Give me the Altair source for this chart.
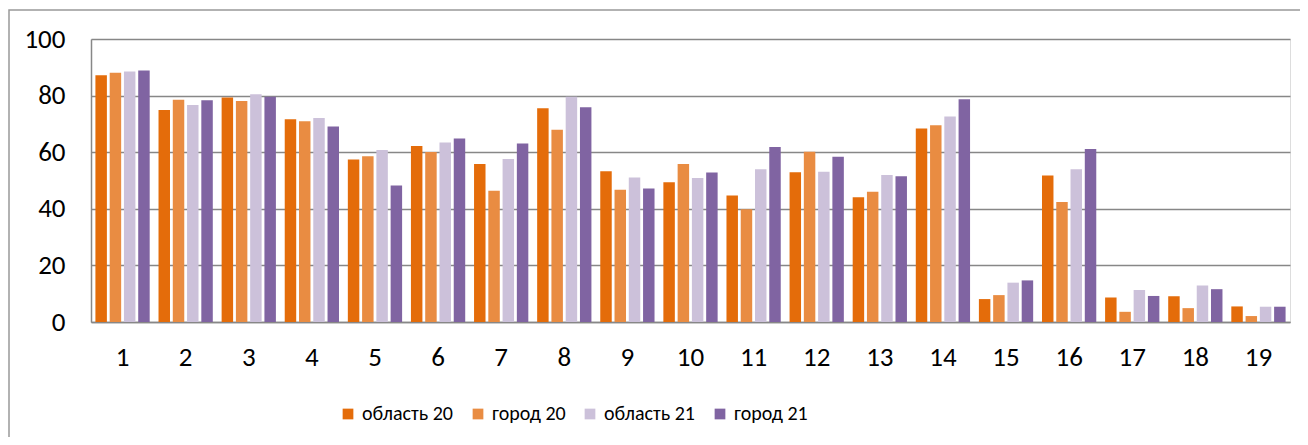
import altair as alt
import pandas as pd

tasks = [str(i) for i in range(1, 20)]
series = ["область 20", "город 20", "область 21", "город 21"]
colors = ["#E46C0A", "#E98C42", "#CCC1DA", "#8064A2"]

obl20 = [87.2, 74.9, 79.3, 71.6, 57.4, 62.2, 55.8, 75.5, 53.3, 49.4, 44.7, 52.9, 44.1, 68.4, 8.1, 51.8, 8.7, 9.1, 5.5]
gor20 = [88.1, 78.5, 78.1, 70.9, 58.6, 60.1, 46.4, 67.9, 46.7, 55.8, 39.8, 60.2, 46.0, 69.5, 9.5, 42.4, 3.6, 4.9, 2.1]
obl21 = [88.5, 76.7, 80.5, 72.1, 60.8, 63.4, 57.6, 79.6, 51.1, 50.9, 54.0, 53.1, 51.9, 72.6, 13.9, 54.0, 11.3, 12.9, 5.4]
gor21 = [88.9, 78.4, 79.6, 69.1, 48.2, 64.8, 63.1, 75.9, 47.2, 52.8, 61.8, 58.4, 51.5, 78.7, 14.7, 61.1, 9.2, 11.6, 5.4]

rows = []
for s, vals in zip(series, [obl20, gor20, obl21, gor21]):
    for t, v in zip(tasks, vals):
        rows.append({"task": t, "series": s, "value": v})
df = pd.DataFrame(rows)

FONT = "Carlito, Calibri, 'Open Sans', sans-serif"
GRID = "#878787"

frame = alt.Chart(pd.DataFrame({"a": [0]})).mark_rect(
    fill=None, stroke="#999999", strokeWidth=1.5
).encode(
    x=alt.value(-82), x2=alt.value(1300), y=alt.value(-29), y2=alt.value(600)
)

bars = alt.Chart(df).mark_bar().encode(
    x=alt.X("task:N", sort=tasks,
            scale=alt.Scale(paddingInner=0.14, paddingOuter=0.07),
            axis=alt.Axis(title=None, labelAngle=0, ticks=False, labelPadding=43,
                          labelBaseline="alphabetic", labelFontSize=27, labelFont=FONT,
                          labelColor="#000000", domainColor=GRID, domainWidth=1.5)),
    xOffset=alt.XOffset("series:N", sort=series,
                        scale=alt.Scale(paddingInner=0.196, paddingOuter=0)),
    y=alt.Y("value:Q", scale=alt.Scale(domain=[0, 100], nice=False),
            axis=alt.Axis(title=None, values=[0, 20, 40, 60, 80, 100], ticks=False,
                          labelPadding=26, labelFontSize=27, labelFont=FONT,
                          labelColor="#000000", domainColor=GRID, domainWidth=1.5,
                          gridColor=GRID, gridWidth=1.5, gridOpacity=1)),
    color=alt.Color("series:N", sort=series,
                    scale=alt.Scale(domain=series, range=colors),
                    legend=alt.Legend(title=None, orient="none", direction="horizontal",
                                      legendX=247, legendY=365, symbolType="square",
                                      symbolSize=115, symbolStrokeWidth=0,
                                      symbolOpacity=1,
                                      labelFontSize=20, labelFont=FONT, labelColor="#000000",
                                      labelOffset=4, columnPadding=14, labelLimit=300)),
)

chart = alt.layer(frame, bars).properties(
    width=1199, height=283,
    autosize=alt.AutoSizeParams(type="none"),
    padding={"left": 83, "top": 31, "right": 10, "bottom": 115},
).configure_view(stroke=None).configure(background="white")

chart.save("out.html", embed_options={"renderer": "svg", "actions": False})
